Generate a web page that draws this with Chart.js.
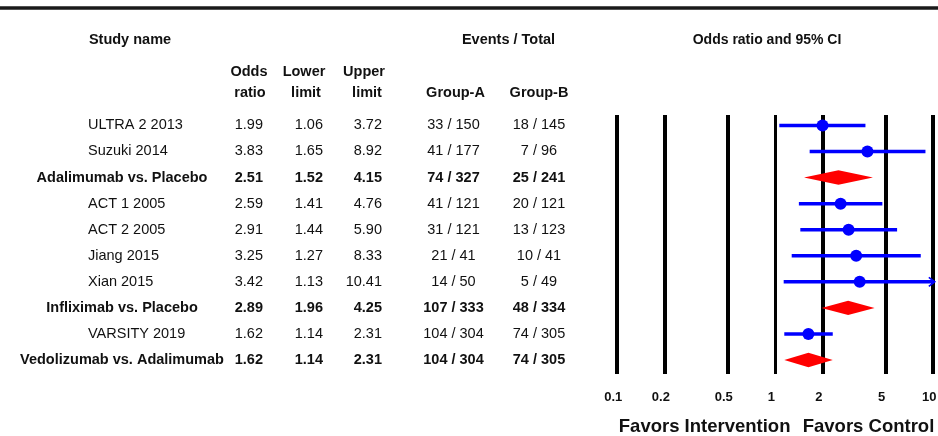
<!DOCTYPE html>
<html>
<head>
<meta charset="utf-8">
<script src="https://cdn.jsdelivr.net/npm/chart.js@4.4.0/dist/chart.umd.min.js"></script>
<style>
  html, body { margin: 0; padding: 0; background: #fff; }
  canvas { display: block; }
</style>
</head>
<body>
<canvas id="forest" width="938" height="436"></canvas>
<script>
// ---- Study data ----
const studyNames = [
  'ULTRA 2 2013', 'Suzuki 2014', 'Adalimumab vs. Placebo',
  'ACT 1 2005', 'ACT 2 2005', 'Jiang 2015', 'Xian 2015',
  'Infliximab vs. Placebo', 'VARSITY 2019', 'Vedolizumab vs. Adalimumab'
];
const oddsRatios  = [1.99, 3.83, 2.51, 2.59, 2.91, 3.25, 3.42, 2.89, 1.62, 1.62];
const lowerLimits = [1.06, 1.65, 1.52, 1.41, 1.44, 1.27, 1.13, 1.96, 1.14, 1.14];
const upperLimits = [3.72, 8.92, 4.15, 4.76, 5.90, 8.33, 10.41, 4.25, 2.31, 2.31];
const eventsA = [33, 41, 74, 41, 31, 21, 14, 107, 104, 104];
const totalsA = [150, 177, 327, 121, 121, 41, 50, 333, 304, 304];
const eventsB = [18, 7, 25, 20, 13, 10, 5, 48, 74, 74];
const totalsB = [145, 96, 241, 121, 123, 41, 49, 334, 305, 305];
const summaryRows = [false, false, true, false, false, false, false, true, false, true];

const axisTicks = [0.1, 0.2, 0.5, 1, 2, 5, 10];
const axisTickLabels = ['0.1', '0.2', '0.5', '1', '2', '5', '10'];
const favorsLabels = ['Favors Intervention', 'Favors Control'];

// ---- Styling ----
const FONT = '"Liberation Sans", Arial, Helvetica, sans-serif';
const TEXT = '#111';
const BLUE = '#0000ff';
const RED = '#ff0000';
const rowIdx = studyNames.map((_, i) => i);
const studyRows = rowIdx.filter(i => !summaryRows[i]);
const pooledRows = rowIdx.filter(i => summaryRows[i]);

// Horizontal confidence-interval lines, one dataset per study
const ciDatasets = studyRows.map(i => ({
  type: 'line',
  data: [{ x: lowerLimits[i], y: i }, { x: upperLimits[i], y: i }],
  borderColor: BLUE,
  borderWidth: 3.5,
  pointRadius: 0,
  fill: false,
  order: 2
}));

// Point estimates
const pointDataset = {
  type: 'scatter',
  data: studyRows.map(i => ({ x: oddsRatios[i], y: i })),
  backgroundColor: BLUE,
  borderColor: BLUE,
  borderWidth: 0,
  pointRadius: 6,
  pointHoverRadius: 6,
  order: 0
};

// Pooled-estimate diamonds, arrows for clipped intervals, and the table text
const forestExtras = {
  id: 'forestExtras',
  afterDatasetsDraw(chart) {
    const { ctx, scales: { x, y }, chartArea } = chart;
    ctx.save();
    // diamonds
    ctx.fillStyle = RED;
    pooledRows.forEach(i => {
      const cy = y.getPixelForValue(i);
      const xl = x.getPixelForValue(lowerLimits[i]);
      const xm = x.getPixelForValue(oddsRatios[i]);
      const xr = x.getPixelForValue(upperLimits[i]);
      ctx.beginPath();
      ctx.moveTo(xl, cy);
      ctx.lineTo(xm, cy - 7.2);
      ctx.lineTo(xr, cy);
      ctx.lineTo(xm, cy + 7.2);
      ctx.closePath();
      ctx.fill();
    });
    // arrow heads where the interval runs past the axis
    ctx.strokeStyle = BLUE;
    ctx.lineWidth = 1.6;
    studyRows.forEach(i => {
      if (upperLimits[i] > x.max) {
        const cy = y.getPixelForValue(i);
        const xe = chartArea.right + 1.5;
        ctx.beginPath();
        ctx.moveTo(xe - 6, cy - 4.5);
        ctx.lineTo(xe, cy);
        ctx.lineTo(xe - 6, cy + 4.5);
        ctx.stroke();
      }
    });
    ctx.restore();
  },
  afterDraw(chart) {
    const { ctx, scales: { x, y }, width } = chart;
    ctx.save();
    // top rule
    ctx.strokeStyle = '#1a1a1a';
    ctx.lineWidth = 3.5;
    ctx.beginPath();
    ctx.moveTo(0, 8);
    ctx.lineTo(width, 8);
    ctx.stroke();

    ctx.fillStyle = TEXT;
    ctx.textBaseline = 'middle';
    const bold = '700 14.5px ' + FONT;
    const plain = '400 14.5px ' + FONT;

    // column headers
    ctx.font = bold;
    ctx.textAlign = 'center';
    ctx.fillText('Study name', 130, 40);
    ctx.fillText('Events / Total', 508.5, 40);
    ctx.font = '700 14px ' + FONT;
    ctx.fillText('Odds ratio and 95% CI', 767, 40);
    ctx.font = bold;
    ctx.fillText('Odds', 249, 71.5);
    ctx.fillText('ratio', 250, 92.5);
    ctx.fillText('Lower', 304, 71.5);
    ctx.fillText('limit', 306, 92.5);
    ctx.fillText('Upper', 364, 71.5);
    ctx.fillText('limit', 367, 92.5);
    ctx.fillText('Group-A', 455.5, 92.5);
    ctx.fillText('Group-B', 539, 92.5);

    // rows
    rowIdx.forEach(i => {
      const cy = y.getPixelForValue(i);
      const pooled = summaryRows[i];
      ctx.font = pooled ? bold : plain;
      if (pooled) {
        ctx.textAlign = 'center';
        ctx.fillText(studyNames[i], 122, cy);
      } else {
        ctx.textAlign = 'left';
        ctx.fillText(studyNames[i], 88, cy);
      }
      ctx.textAlign = 'right';
      ctx.fillText(oddsRatios[i].toFixed(2), 263, cy);
      ctx.fillText(lowerLimits[i].toFixed(2), 323, cy);
      ctx.fillText(upperLimits[i].toFixed(2), 382, cy);
      ctx.textAlign = 'center';
      ctx.fillText(eventsA[i] + ' / ' + totalsA[i], 453.5, cy);
      ctx.fillText(eventsB[i] + ' / ' + totalsB[i], 539, cy);
    });

    // favours captions under the axis
    ctx.font = '700 18.5px ' + FONT;
    ctx.textAlign = 'left';
    ctx.fillText(favorsLabels[0], x.getPixelForValue(x.min) + 1.5, 427);
    ctx.textAlign = 'right';
    ctx.fillText(favorsLabels[1], x.getPixelForValue(x.max) + 1, 427);
    ctx.restore();
  }
};

new Chart(document.getElementById('forest'), {
  data: { datasets: [pointDataset, ...ciDatasets] },
  options: {
    responsive: false,
    animation: false,
    events: [],
    layout: {
      autoPadding: false,
      padding: { left: 617.3, right: 4.7, top: 115, bottom: 15 }
    },
    plugins: { legend: { display: false }, tooltip: { enabled: false } },
    scales: {
      x: {
        type: 'logarithmic',
        min: axisTicks[0],
        max: axisTicks[axisTicks.length - 1],
        afterBuildTicks(scale) {
          scale.ticks = axisTicks.map(v => ({ value: v }));
        },
        afterFit(scale) {
          // keep the plot edges fixed regardless of the end labels
          scale.paddingLeft = 0;
          scale.paddingRight = 0;
        },
        border: { display: false },
        grid: {
          color: '#000',
          lineWidth: c => (c.tick && c.tick.value === 1 ? 3 : 4),
          drawTicks: false
        },
        ticks: {
          autoSkip: false,
          maxRotation: 0,
          padding: 15.5,
          labelOffset: -4,
          color: TEXT,
          font: { family: FONT, size: 13, weight: '700' },
          callback: (v, idx) => axisTickLabels[idx]
        }
      },
      y: {
        type: 'linear',
        reverse: true,
        min: -0.4,
        max: 9.55,
        display: false
      }
    }
  },
  plugins: [forestExtras]
});
</script>
</body>
</html>
